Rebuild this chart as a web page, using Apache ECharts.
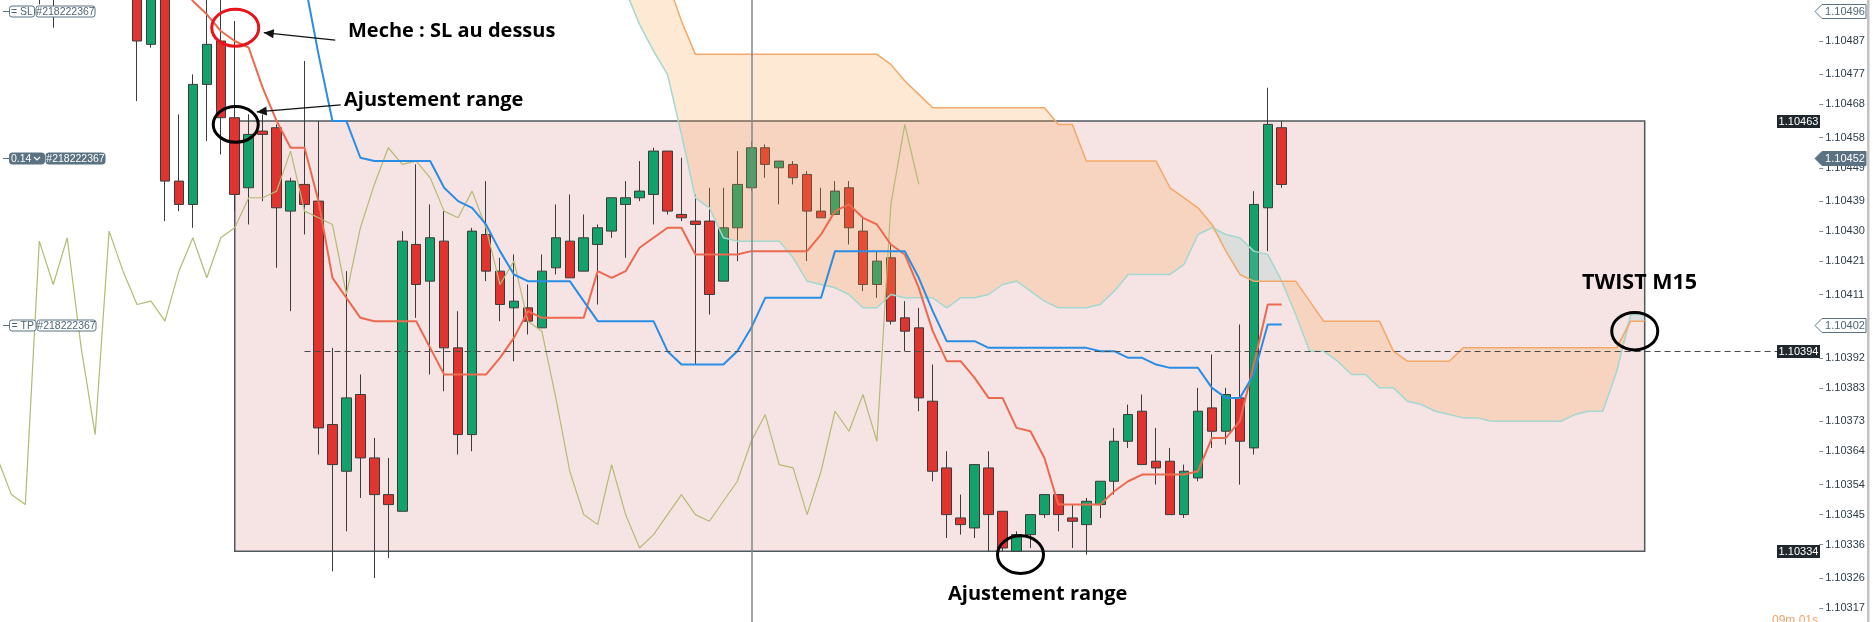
<!DOCTYPE html>
<html><head><meta charset="utf-8">
<script src="https://cdn.jsdelivr.net/npm/echarts@6/dist/echarts.min.js"></script>
<style>html,body{margin:0;padding:0;background:#fff;overflow:hidden}#c{width:1873px;height:622px}</style>
</head><body><div id="c"></div>
<script>
// ---------- data ----------
const OFF = 1;          // one extra slot on the left for the lagging span
const SLOTS = 131;
const categories = Array.from({length: SLOTS}, (_, k) => 'T' + (k - OFF));

// candles, index 0..91 : [open, close, low, high]
const ohlc = [
 [1.10540,1.10530,1.10520,1.10555],[1.10530,1.10545,1.10515,1.10560],[1.10525,1.10512,1.10498,1.10535],
 [1.10512,1.10520,1.10491,1.10530],[1.10520,1.10535,1.10510,1.10545],[1.10535,1.10528,1.10512,1.10550],
 [1.10528,1.10540,1.10518,1.10552],[1.10540,1.10526,1.10515,1.10548],[1.10526,1.10518,1.10505,1.10535],
 [1.10515,1.10487,1.10469,1.10520],[1.10486,1.10510,1.10485,1.10515],[1.10508,1.10445,1.10433,1.10515],
 [1.10445,1.10438,1.10436,1.10465],[1.10438,1.10474,1.10431,1.10477],[1.10474,1.10486,1.10457,1.10502],
 [1.10487,1.10464,1.10453,1.10503],[1.10464,1.10441,1.10436,1.10493],[1.10443,1.10459,1.10432,1.10465],
 [1.10460,1.10459,1.10439,1.10465],[1.10461,1.10437,1.10419,1.10462],[1.10436,1.10445,1.10406,1.10446],
 [1.10444,1.10438,1.10429,1.10481],[1.10439,1.10371,1.10363,1.10463],[1.10372,1.10360,1.10328,1.10395],
 [1.10358,1.10380,1.10340,1.10418],[1.10381,1.10362,1.10350,1.10387],[1.10362,1.10351,1.10326,1.10368],
 [1.10351,1.10348,1.10332,1.10362],[1.10346,1.10427,1.10346,1.10430],[1.10426,1.10414,1.10404,1.10450],
 [1.10415,1.10428,1.10387,1.10438],[1.10427,1.10395,1.10382,1.10436],[1.10395,1.10369,1.10363,1.10406],
 [1.10369,1.10430,1.10364,1.10431],[1.10429,1.10418,1.10415,1.10445],[1.10418,1.10408,1.10403,1.10422],
 [1.10407,1.10409,1.10391,1.10423],[1.10407,1.10403,1.10399,1.10414],[1.10401,1.10418,1.10401,1.10423],
 [1.10419,1.10428,1.10417,1.10438],[1.10427,1.10416,1.10416,1.10441],[1.10418,1.10428,1.10418,1.10435],
 [1.10426,1.10431,1.10408,1.10432],[1.10430,1.10440,1.10428,1.10440],[1.10438,1.10440,1.10422,1.10445],
 [1.10440,1.10442,1.10439,1.10451],[1.10441,1.10454,1.10432,1.10455],[1.10454,1.10436,1.10435,1.10454],
 [1.10435,1.10434,1.10433,1.10452],[1.10433,1.10432,1.10390,1.10441],[1.10433,1.10411,1.10405,1.10443],
 [1.10415,1.10431,1.10415,1.10443],[1.10431,1.10444,1.10421,1.10454],[1.10443,1.10455,1.10442,1.10457],
 [1.10455,1.10450,1.10446,1.10456],[1.10449,1.10451,1.10438,1.10451],[1.10450,1.10446,1.10444,1.10451],
 [1.10447,1.10436,1.10421,1.10448],[1.10436,1.10434,1.10434,1.10443],[1.10435,1.10442,1.10435,1.10445],
 [1.10443,1.10431,1.10426,1.10445],[1.10430,1.10414,1.10412,1.10434],[1.10414,1.10421,1.10410,1.10424],
 [1.10422,1.10403,1.10402,1.10426],[1.10404,1.10400,1.10394,1.10409],[1.10401,1.10380,1.10376,1.10407],
 [1.10379,1.10358,1.10355,1.10390],[1.10359,1.10345,1.10338,1.10364],[1.10344,1.10342,1.10339,1.10351],
 [1.10341,1.10360,1.10338,1.10360],[1.10359,1.10345,1.10334,1.10364],[1.10346,1.10335,1.10334,1.10346],
 [1.10334,1.10339,1.10334,1.10340],[1.10339,1.10345,1.10335,1.10345],[1.10345,1.10351,1.10344,1.10351],
 [1.10351,1.10345,1.10340,1.10351],[1.10344,1.10343,1.10335,1.10348],[1.10342,1.10349,1.10333,1.10350],
 [1.10348,1.10355,1.10344,1.10355],[1.10355,1.10367,1.10351,1.10371],[1.10367,1.10375,1.10365,1.10378],
 [1.10376,1.10360,1.10360,1.10381],[1.10361,1.10359,1.10354,1.10371],[1.10361,1.10345,1.10345,1.10365],
 [1.10345,1.10358,1.10344,1.10360],[1.10356,1.10376,1.10355,1.10383],[1.10377,1.10370,1.10365,1.10393],
 [1.10370,1.10381,1.10366,1.10383],[1.10380,1.10367,1.10354,1.10402],[1.10365,1.10438,1.10363,1.10442],
 [1.10437,1.10462,1.10424,1.10473],[1.10461,1.10444,1.10443,1.10463]
];

const tenkanStart = 11;
const tenkan = [1.10510,1.10505,1.10499,1.10495,1.10490,1.10487,1.10485,1.10473,1.10463,1.10455,
 1.10455,1.10439,1.10416,1.10410,1.10404,1.10403,1.10403,1.10403,1.10403,1.10395,
 1.10387,1.10387,1.10387,1.10387,1.10392,1.10398,1.10406,1.10404,1.10404,1.10404,
 1.10404,1.10418,1.10416,1.10418,1.10425,1.10428,1.10431,1.10431,1.10423,1.10423,
 1.10423,1.10423,1.10424,1.10424,1.10424,1.10424,1.10424,1.10429,1.10436,1.10438,
 1.10434,1.10432,1.10426,1.10423,1.10413,1.10400,1.10391,1.10391,1.10386,1.10380,
 1.10380,1.10371,1.10370,1.10362,1.10348,1.10348,1.10348,1.10348,1.10352,1.10355,
 1.10357,1.10357,1.10357,1.10357,1.10358,1.10368,1.10368,1.10373,1.10390,1.10408,1.10408];

const kijunStart = 21;
const kijun = [1.10505,1.10483,1.10463,1.10463,1.10452,1.10451,1.10451,1.10451,1.10451,1.10451,
 1.10443,1.10439,1.10437,1.10432,1.10424,1.10417,1.10415,1.10415,1.10415,1.10415,
 1.10409,1.10403,1.10403,1.10403,1.10403,1.10403,1.10394,1.10390,1.10390,1.10390,
 1.10390,1.10394,1.10401,1.10410,1.10410,1.10410,1.10410,1.10410,1.10424,1.10424,
 1.10424,1.10424,1.10424,1.10424,1.10416,1.10406,1.10397,1.10397,1.10397,1.10395,
 1.10395,1.10395,1.10395,1.10395,1.10395,1.10395,1.10395,1.10394,1.10394,1.10392,
 1.10392,1.10390,1.10389,1.10389,1.10389,1.10383,1.10380,1.10380,1.10387,1.10402,1.10402];

const chikouStart = -1;
const chikou = [1.10362,1.10351,1.10348,1.10427,1.10414,1.10428,1.10395,1.10369,1.10430,1.10418,
 1.10408,1.10409,1.10403,1.10418,1.10428,1.10416,1.10428,1.10431,1.10440,1.10440,
 1.10442,1.10454,1.10436,1.10434,1.10432,1.10411,1.10431,1.10444,1.10455,1.10450,
 1.10451,1.10446,1.10436,1.10434,1.10442,1.10431,1.10414,1.10421,1.10403,1.10400,
 1.10380,1.10358,1.10345,1.10342,1.10360,1.10345,1.10335,1.10339,1.10345,1.10351,
 1.10345,1.10343,1.10349,1.10355,1.10367,1.10375,1.10360,1.10359,1.10345,1.10358,
 1.10376,1.10370,1.10381,1.10367,1.10438,1.10462,1.10444];

const spanStart = 44;
const senkouA = [1.10502,1.10492,1.10484,1.10477,1.10459,1.10440,1.10437,1.10428,1.10427,1.10427,
 1.10427,1.10427,1.10422,1.10415,1.10414,1.10413,1.10411,1.10407,1.10407,1.10411,
 1.10410,1.10410,1.10410,1.10407,1.10410,1.10410,1.10411,1.10414,1.10415,1.10412,
 1.10409,1.10407,1.10407,1.10407,1.10408,1.10412,1.10417,1.10417,1.10417,1.10417,
 1.10420,1.10429,1.10431,1.10429,1.10428,1.10424,1.10423,1.10415,1.10405,1.10394,
 1.10394,1.10391,1.10387,1.10387,1.10383,1.10383,1.10379,1.10378,1.10376,1.10375,
 1.10374,1.10374,1.10373,1.10373,1.10373,1.10373,1.10373,1.10373,1.10375,1.10376,
 1.10376,1.10388,1.10405,1.10405];
const senkouB = [1.10515,1.10515,1.10512,1.10505,1.10493,1.10483,1.10483,1.10483,1.10483,1.10483,
 1.10483,1.10483,1.10483,1.10483,1.10483,1.10483,1.10483,1.10483,1.10483,1.10480,
 1.10475,1.10471,1.10467,1.10467,1.10467,1.10467,1.10467,1.10467,1.10467,1.10467,
 1.10467,1.10462,1.10462,1.10451,1.10451,1.10451,1.10451,1.10451,1.10451,1.10443,
 1.10440,1.10437,1.10432,1.10424,1.10417,1.10415,1.10415,1.10415,1.10415,1.10409,
 1.10403,1.10403,1.10403,1.10403,1.10403,1.10394,1.10391,1.10391,1.10391,1.10391,
 1.10395,1.10395,1.10395,1.10395,1.10395,1.10395,1.10395,1.10395,1.10395,1.10395,
 1.10395,1.10395,1.10403,1.10403];

const tickLabels = [1.10317,1.10326,1.10336,1.10345,1.10354,1.10364,1.10373,1.10383,1.10392,1.10402,
 1.10411,1.10421,1.10430,1.10439,1.10449,1.10458,1.10468,1.10477,1.10487];

const slLevel = 1.10496, entryLevel = 1.10452, tpLevel = 1.10402, pendingLevel = 1.10394;
const rangeTop = 1.10463, rangeBottom = 1.10334, rangeStart = 16, rangeEnd = 117;
const pendingStart = 21, cursorIndex = 53;
const ticketId = '#218222367', lotText = '0.14';

// ---------- build ----------
const cat = i => i + OFF;
function pad(start, arr) {
  const out = new Array(SLOTS).fill('-');
  arr.forEach((v, k) => { out[cat(start + k)] = v; });
  return out;
}
const candleData = new Array(SLOTS).fill(['-', '-', '-', '-']);
ohlc.forEach((d, i) => { candleData[cat(i)] = d; });
const cloudBase = pad(spanStart, senkouA.map((a, k) => Math.min(a, senkouB[k])));
const cloudBear = pad(spanStart, senkouA.map((a, k) => Math.max(senkouB[k] - a, 0)));
const cloudBull = pad(spanStart, senkouA.map((a, k) => Math.max(a - senkouB[k], 0)));

const lineS = (name, data, color, width, z, extra) => Object.assign({
  name, type: 'line', data, symbol: 'none', showSymbol: false, z,
  lineStyle: {color, width}, emphasis: {disabled: true}
}, extra || {});

const dotted = {color: '#5a7180', width: 1, type: [2, 2]};
const option = {
  animation: false,
  backgroundColor: '#ffffff',
  grid: {left: -9.56, right: 53.8, top: 0, bottom: 0, outerBoundsMode: 'none', containLabel: false},
  xAxis: {type: 'category', data: categories, boundaryGap: true, show: false},
  yAxis: {
    type: 'value', position: 'right', min: 1.103128, max: 1.104993, scale: true,
    splitLine: {show: false}, axisLine: {show: false},
    axisTick: {show: true, length: 4, lineStyle: {color: '#8c8c8c'}, customValues: tickLabels},
    axisLabel: {customValues: tickLabels, formatter: v => v.toFixed(5), color: '#2e3d48',
      fontSize: 11, fontFamily: 'Liberation Sans, Arial, sans-serif', margin: 6}
  },
  series: [
    {
      name: 'candles', type: 'candlestick', data: candleData, barWidth: 10, z: 2, clip: true,
      itemStyle: {color: '#13a26c', color0: '#e2342f', borderColor: '#3b3b3b', borderColor0: '#3b3b3b', borderWidth: 1},
      markArea: {silent: true, z: 1,
        itemStyle: {color: '#f6e4e4', borderColor: '#50585e', borderWidth: 1.5},
        data: [[{xAxis: cat(rangeStart), yAxis: rangeTop}, {xAxis: cat(rangeEnd), yAxis: rangeBottom}]]}
    },
    lineS('base', cloudBase, 'rgba(0,0,0,0)', 0, 3, {stack: 'cloud'}),
    lineS('bear', cloudBear, 'rgba(0,0,0,0)', 0, 3, {stack: 'cloud', areaStyle: {color: 'rgba(250,160,70,0.33)'}}),
    lineS('bull', cloudBull, 'rgba(0,0,0,0)', 0, 3, {stack: 'cloud', areaStyle: {color: 'rgba(140,205,200,0.35)'}}),
    lineS('senkouA', pad(spanStart, senkouA), '#a3d8d1', 1.5, 4),
    lineS('senkouB', pad(spanStart, senkouB), '#f2a869', 1.5, 4),
    lineS('chikou', pad(chikouStart, chikou), '#b3bb74', 1.2, 5),
    lineS('tenkan', pad(tenkanStart, tenkan), '#eb6a4f', 2, 5),
    lineS('kijun', pad(kijunStart, kijun), '#2a8de4', 2, 5, {
      markLine: {silent: true, symbol: 'none', z: 6, label: {show: false},
        data: [
          {yAxis: slLevel, lineStyle: dotted},
          {yAxis: entryLevel, lineStyle: dotted},
          {yAxis: tpLevel, lineStyle: dotted},
          [{coord: [cat(pendingStart), pendingLevel], lineStyle: {color: '#4a4a4a', width: 1.2, type: [6, 4]}},
           {coord: [SLOTS - 1, pendingLevel]}],
          {xAxis: cat(cursorIndex), lineStyle: {color: '#7e8a8a', width: 1.5, type: 'solid'}}
        ]}
    })
  ]
};

const chart = echarts.init(document.getElementById('c'));
chart.setOption(option);

// ---------- overlays (positions from the chart's own scales) ----------
const px = (i, v) => chart.convertToPixel({gridIndex: 0}, [cat(i), v]);
const yOf = v => Math.round(chart.convertToPixel({gridIndex: 0}, [0, v])[1]) + 0.5;
const G = [];
const FONT = 'Liberation Sans, Arial, sans-serif';
const slate = '#5b7282';

function box(x, y, w, h, fill, stroke, text, color, r) {
  G.push({type: 'rect', z: 100, shape: {x, y, width: w, height: h, r: r || 0},
    style: {fill, stroke: stroke || null, lineWidth: 1}});
  G.push({type: 'text', z: 101, style: {text, x: x + w / 2, y: y + h / 2 + 0.5, align: 'center',
    verticalAlign: 'middle', font: '10.5px ' + FONT, fill: color}});
}
function leftTag(v, t1, w1, x2, filled) {
  const y = yOf(v);
  G.push({type: 'line', z: 100, shape: {x1: 3, y1: y, x2: 9, y2: y}, style: {stroke: slate, lineWidth: 1}});
  box(9.5, y - 5.5, w1, 11, filled ? slate : '#fff', slate, t1, filled ? '#fff' : '#4e6575', 2.5);
  box(x2, y - 5.5, 59, 11, filled ? slate : '#fff', slate, ticketId, filled ? '#fff' : '#4e6575', 2.5);
}
leftTag(slLevel, '= SL', 25, 36, false);
leftTag(tpLevel, '= TP', 26.5, 37, false);
leftTag(entryLevel, lotText + '    ', 35, 46, true);
(function () {
  const y = yOf(entryLevel);
  G.push({type: 'polyline', z: 102, shape: {points: [[34, y - 1.5], [37, y + 1.5], [40, y - 1.5]]},
    style: {stroke: '#fff', lineWidth: 1.2, fill: null}});
})();

function rightTag(v, text, filled) {
  const y = yOf(v);
  G.push({type: 'polygon', z: 100, shape: {points: [[1815, y], [1822, y - 7], [1866, y - 7], [1866, y + 7], [1822, y + 7]]},
    style: {fill: filled ? slate : '#fff', stroke: slate, lineWidth: 1}});
  G.push({type: 'text', z: 101, style: {text, x: 1845, y: y + 0.5, align: 'center', verticalAlign: 'middle',
    font: '11px ' + FONT, fill: filled ? '#fff' : '#4e6575'}});
}
rightTag(slLevel, slLevel.toFixed(5), false);
rightTag(entryLevel, entryLevel.toFixed(5), true);
rightTag(tpLevel, tpLevel.toFixed(5), false);

function blackBox(v) {
  const y = yOf(v);
  G.push({type: 'rect', z: 100, shape: {x: 1777, y: y - 6.5, width: 43, height: 13}, style: {fill: '#1f272c'}});
  G.push({type: 'text', z: 101, style: {text: v.toFixed(5), x: 1798.5, y: y + 0.5, align: 'center',
    verticalAlign: 'middle', font: '11px ' + FONT, fill: '#fff'}});
}
blackBox(rangeTop); blackBox(pendingLevel); blackBox(rangeBottom);

G.push({type: 'rect', z: 100, shape: {x: 1867, y: 0, width: 2.5, height: 622}, style: {fill: '#c2c2c2'}});
G.push({type: 'text', z: 101, style: {text: '09m 01s', x: 1818, y: 615, align: 'right', verticalAlign: 'top',
  font: '12px ' + FONT, fill: '#f2a36a'}});

// annotations
function ellipse(c, dx, rx, ry, color) {
  G.push({type: 'ellipse', z: 110, shape: {cx: c[0] + dx, cy: c[1], rx, ry},
    style: {fill: null, stroke: color, lineWidth: 3}});
  return [c[0] + dx, c[1]];
}
function arrow(x1, y1, x2, y2) {
  G.push({type: 'line', z: 110, shape: {x1, y1, x2, y2}, style: {stroke: '#111', lineWidth: 1.3}});
  const a = Math.atan2(y2 - y1, x2 - x1), L = 10, W = 4.5;
  const bx = x2 - L * Math.cos(a), by = y2 - L * Math.sin(a);
  G.push({type: 'polygon', z: 110, shape: {points: [[x2, y2],
    [bx + W * Math.sin(a), by - W * Math.cos(a)], [bx - W * Math.sin(a), by + W * Math.cos(a)]]},
    style: {fill: '#111'}});
}
function label(text, x, y, size) {
  G.push({type: 'text', z: 110, style: {text, x, y, align: 'left', verticalAlign: 'middle',
    font: 'bold ' + size + 'px "Open Sans", sans-serif', fill: '#000'}});
}
const cRed = ellipse(px(16, 1.10491), 0.5, 23.5, 18.5, '#e8141c');
const cTop = ellipse(px(16, 1.10462), 1, 22.5, 17.8, '#000');
ellipse(px(72, 1.10333), 4, 23, 18.8, '#000');
ellipse(px(116, 1.10400), 4, 23, 18.7, '#000');
arrow(cRed[0] + 100, cRed[1] + 12.5, cRed[0] + 28.5, cRed[1] + 5);
arrow(cTop[0] + 105, cTop[1] - 19.5, cTop[0] + 21, cTop[1] - 12.5);
label('Meche : SL au dessus', 348, 31, 20);
label('Ajustement range', 344, 100, 20);
label('Ajustement range', 948, 594, 20);
label('TWIST M15', 1582, 283, 21.5);

chart.setOption({graphic: G});
</script>
</body></html>
